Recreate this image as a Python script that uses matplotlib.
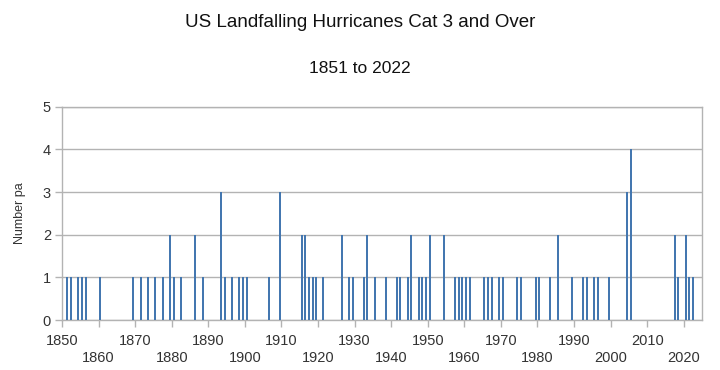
import matplotlib
matplotlib.use("Agg")
import matplotlib.pyplot as plt
import numpy as np

plt.rcParams['font.family'] = ['Liberation Sans', 'DejaVu Sans']

years = [1851, 1852, 1854, 1855, 1856, 1860, 1869, 1871, 1873, 1875, 1877, 1879, 1880, 1882,
         1886, 1888, 1893, 1894, 1896, 1898, 1899, 1900, 1906, 1909,
         1915, 1916, 1917, 1918, 1919, 1921, 1926, 1928, 1929, 1932, 1933, 1935, 1938,
         1941, 1942, 1944, 1945, 1947, 1948, 1949, 1950, 1954, 1957, 1958, 1959, 1960, 1961,
         1965, 1966, 1967, 1969, 1970, 1974, 1975, 1979, 1980, 1983, 1985, 1989,
         1992, 1993, 1995, 1996, 1999, 2004, 2005, 2017, 2018, 2020, 2021, 2022]
counts = [1, 1, 1, 1, 1, 1, 1, 1, 1, 1, 1, 2, 1, 1,
          2, 1, 3, 1, 1, 1, 1, 1, 1, 3,
          2, 2, 1, 1, 1, 1, 2, 1, 1, 1, 2, 1, 1,
          1, 1, 1, 2, 1, 1, 1, 2, 2, 1, 1, 1, 1, 1,
          1, 1, 1, 1, 1, 1, 1, 1, 1, 1, 2, 1,
          1, 1, 1, 1, 1, 3, 4, 2, 1, 2, 1, 1]
upper_labels = [1850, 1870, 1890, 1910, 1930, 1950, 1970, 1990, 2010]
lower_labels = [1860, 1880, 1900, 1920, 1940, 1960, 1980, 2000, 2020]

title = "US Landfalling Hurricanes Cat 3 and Over"
subtitle = "1851 to 2022"
ylabel = "Number pa"

grey = '#b3b3b3'
bar_color = '#4477b0'

fig = plt.figure(figsize=(7.2, 3.7), dpi=100)
ax = fig.add_axes([0.0861, 0.135, 0.975 - 0.0861, 0.7116 - 0.135])

ax.bar(np.array(years) + 0.5, counts, width=0.55, color=bar_color, zorder=3)

ax.set_xlim(1850, 2025)
ax.set_ylim(0, 5)
ax.set_yticks(range(0, 6))
ax.yaxis.grid(True, color=grey, linewidth=1, zorder=0)
ax.set_axisbelow(True)
for s in ax.spines.values():
    s.set_color(grey)
    s.set_linewidth(1)
ax.tick_params(axis='y', colors=grey, labelcolor='#333333', labelsize=10.5, length=5, width=1, pad=3)

ticks = sorted(upper_labels + lower_labels)
ax.set_xticks(ticks)
labels = []
for t in ticks:
    if t in lower_labels:
        labels.append("\n" + str(t))
    else:
        labels.append(str(t))
ax.set_xticklabels(labels, linespacing=1.25)
ax.tick_params(axis='x', colors=grey, labelcolor='#333333', labelsize=10.5, length=5, width=1, pad=5)

ax.set_ylabel(ylabel, fontsize=9, color='#333333', labelpad=12)

fig.text(0.5, 0.94, title, ha='center', va='center', fontsize=13.5, color='#111111')
fig.text(0.5, 0.815, subtitle, ha='center', va='center', fontsize=12.5, color='#111111')

fig.savefig("out.png", dpi=100)
